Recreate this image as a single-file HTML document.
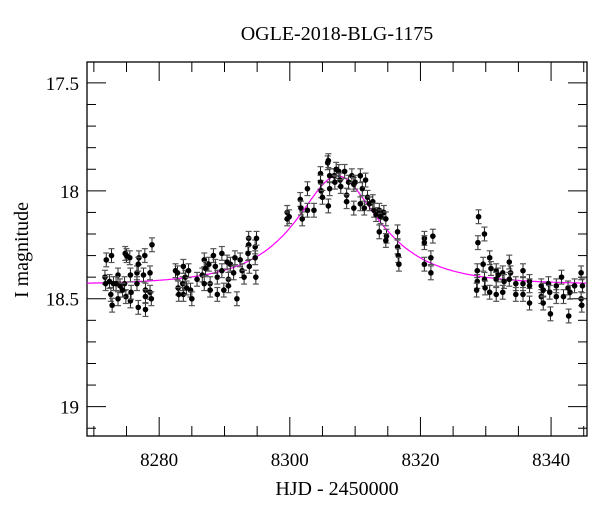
<!DOCTYPE html>
<html><head><meta charset="utf-8"><style>
html,body{margin:0;padding:0;background:#fff;width:600px;height:512px;overflow:hidden}
svg{display:block;font-family:"Liberation Serif",serif}
</style></head><body>
<svg id="chart" width="600" height="512">
<text x="337" y="40" text-anchor="middle" font-size="20">OGLE-2018-BLG-1175</text>
<text x="337" y="495" text-anchor="middle" font-size="20">HJD - 2450000</text>
<text transform="translate(28,250) rotate(-90)" text-anchor="middle" font-size="20">I magnitude</text>
<rect x="87" y="62" width="500" height="374" fill="none" stroke="#000" stroke-width="1.3"/>
<g id="ticks"></g><g id="model"></g><g id="pts"></g>
</svg>
<script>
const times=[8271.9,8271.7,8271.8,8272.7,8272.6,8272.8,8273,8273.7,8273.7,8274,8274.8,8274.7,8274.9,8275,8275.5,8275.6,8275.6,8275.7,8276.6,8276.6,8276.8,8276.9,8276.8,8277.6,8277.8,8277.9,8277.9,8277.9,8278.6,8278.6,8278.8,8278.9,8273.4,8272.4,8274.4,
8282.5,8282.8,8282.9,8283,8283.7,8283.6,8283.7,8284,8284.2,8284.5,8284.8,8285,8285.8,8286.6,8286.9,8286.9,8287.1,8287.6,8287.8,8287.8,8288.3,8288.6,8288.9,8288.9,8289.6,8289.6,8289.9,8290.4,8290.6,8290.6,8290.9,8291.4,8291.9,8291.6,8292.4,8292.7,8293,8293.7,8293.7,8293.6,8293.8,8294.7,8294.7,8294.8,8294.9,
8299.6,8299.6,8299.9,8301.6,8301.7,8301.9,8302.7,8302.7,8303.7,8304.7,8304.7,8304.8,8305,8305.8,8305.9,8305.9,8306.1,8306.1,8306.8,8306.9,8307.1,8307.5,8307.7,8307.8,8308.4,8308.7,8308.7,8309,8309.5,8309.8,8309.8,8310,8310.8,8310.8,8311.1,8311.4,8311.6,8311.9,8312.2,8312.7,8312.9,8313.2,8313.7,8313.9,8313.7,8314.4,8314.7,8314.8,8314.7,8316.5,8316.5,8316.6,8316.7,8320.6,8320.6,8320.6,8321.6,8321.9,8321.6,
8328.9,8328.8,8329.8,8328.7,8328.7,8328.6,8329.6,8329.8,8329.9,8330.6,8330.8,8330.6,8331.6,8331.6,8331.6,8331.9,8332.6,8332.8,8332.6,8333.6,8333.8,8333.6,8334.6,8334.6,8335.7,8335.7,8335.7,8336.7,8336.7,8336.7,8338.5,8338.5,8338.8,8338.8,8339.6,8339.8,8339.9,8340.8,8340.8,8341.6,8341.9,8342.6,8342.7,8342.9,8343.6,8344.6,8344.6,8344.7,8344.8];
const mags=[18.32,18.40,18.43,18.30,18.48,18.53,18.43,18.39,18.50,18.44,18.29,18.43,18.49,18.30,18.31,18.39,18.51,18.47,18.38,18.43,18.54,18.31,18.34,18.39,18.30,18.46,18.55,18.49,18.38,18.47,18.50,18.25,18.43,18.42,18.46,
18.37,18.38,18.45,18.48,18.35,18.43,18.48,18.40,18.45,18.37,18.46,18.50,18.41,18.39,18.32,18.43,18.36,18.34,18.43,18.46,18.30,18.35,18.48,18.40,18.29,18.37,18.46,18.33,18.41,18.44,18.34,18.38,18.50,18.31,18.32,18.37,18.40,18.22,18.25,18.29,18.35,18.26,18.31,18.40,18.22,
18.10,18.13,18.12,18.04,18.08,18.13,17.99,18.09,18.09,17.92,17.96,18.00,18.03,17.87,17.86,18.07,17.93,17.99,17.93,17.96,17.90,17.91,17.95,17.98,17.91,18.02,18.05,17.96,17.93,17.97,18.08,17.96,17.93,18.06,17.99,18.08,17.95,18.03,18.06,18.05,18.09,18.11,18.09,18.12,18.19,18.10,18.13,18.21,18.23,18.19,18.26,18.30,18.34,18.22,18.24,18.34,18.31,18.21,18.38,
18.12,18.24,18.20,18.37,18.42,18.46,18.34,18.41,18.45,18.31,18.36,18.47,18.37,18.41,18.48,18.39,18.38,18.42,18.47,18.33,18.38,18.41,18.43,18.48,18.37,18.43,18.48,18.42,18.44,18.52,18.44,18.49,18.46,18.52,18.43,18.47,18.57,18.49,18.44,18.40,18.49,18.45,18.58,18.47,18.44,18.38,18.50,18.53,18.44];
const errBar=0.032;
const xTickLabels=[8280,8300,8320,8340];
const yTickLabels=[17.5,18,18.5,19];
const modelParams=[8307.3,0.5,12,0.5,18.435]; // t0,u0,tE,fs,base
const X0=8268.95,X1=8345.5,Y0=17.403,Y1=19.136;
const L=87,R=587,T=62,B=436;
const xs=t=>L+(t-X0)/(X1-X0)*(R-L);
const ys=m=>T+(m-Y0)/(Y1-Y0)*(B-T);
const NS="http://www.w3.org/2000/svg";
function mk(tag,attrs,parent){const e=document.createElementNS(NS,tag);for(const k in attrs)e.setAttribute(k,attrs[k]);parent.appendChild(e);return e;}
const tg=document.getElementById('ticks');
for(let t=8270;t<=8345;t+=5){
  const major=t%20===0;const len=major?19:10;const x=xs(t);
  const a=mk('line',{x1:x,x2:x,y1:B,y2:B-len,stroke:'#000','stroke-width':1},tg);
  
  
  const b=mk('line',{x1:x,x2:x,y1:T,y2:T+len,stroke:'#000','stroke-width':1},tg);
  
  
}
xTickLabels.forEach(v=>{
  const e=mk('text',{x:xs(v),y:466,'text-anchor':'middle','font-size':19},tg);e.textContent=v;
  
  
});
for(let i=175;i<=191;i++){
  const m=i/10;if(m<Y0||m>Y1)continue;
  const major=i%5===0;const len=major?19:9;const y=ys(m);
  const a=mk('line',{x1:L,x2:L+len,y1:y,y2:y,stroke:'#000','stroke-width':1},tg);
  
  
  const b=mk('line',{x1:R,x2:R-len,y1:y,y2:y,stroke:'#000','stroke-width':1},tg);
  
  
}
yTickLabels.forEach(v=>{
  const e=mk('text',{x:79,y:ys(v)+7,'text-anchor':'end','font-size':19},tg);e.textContent=v;
  
  
});
const [t0,u0,tE,fs,base]=modelParams;
let d='';
for(let t=X0;t<=X1;t+=0.2){
  const tau=(t-t0)/tE,u=Math.sqrt(u0*u0+tau*tau);
  const A=(u*u+2)/(u*Math.sqrt(u*u+4));
  const m=base-2.5*Math.log10(1+fs*(A-1));
  d+=(d?'L':'M')+xs(t).toFixed(1)+','+ys(m).toFixed(1);
}
const mp=mk('path',{d:d,fill:'none',stroke:'#ff00ff','stroke-width':1.2},document.getElementById('model'));


const pg=document.getElementById('pts');
times.forEach((t,i)=>{
  const x=xs(t),y=ys(mags[i]),y1=ys(mags[i]-errBar),y2=ys(mags[i]+errBar);
  const g=mk('g',{},pg);
  
  
  mk('line',{x1:x,x2:x,y1:y1,y2:y2,stroke:'#222','stroke-width':1},g);
  mk('line',{x1:x-3,x2:x+3,y1:y1,y2:y1,stroke:'#555','stroke-width':1.2},g);
  mk('line',{x1:x-3,x2:x+3,y1:y2,y2:y2,stroke:'#555','stroke-width':1.2},g);
  mk('circle',{cx:x,cy:y,r:2.8,fill:'#000'},g);
});
</script>
</body></html>
